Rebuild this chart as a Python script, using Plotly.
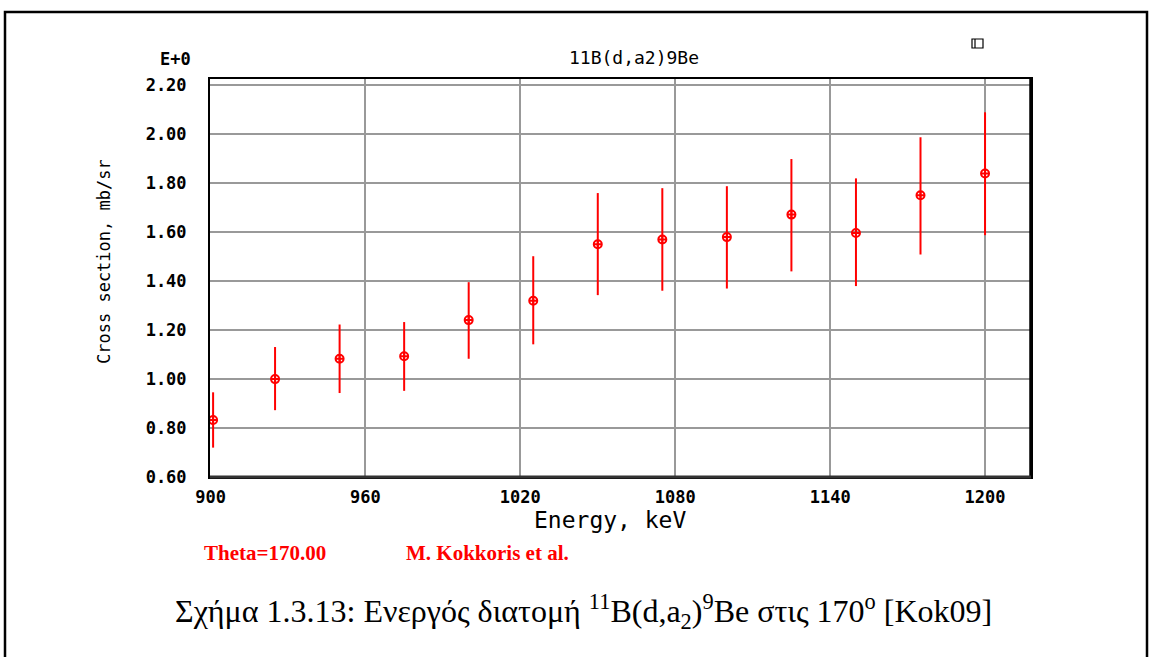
import plotly.graph_objects as go

# ---- data ----
energy = [901, 925, 950, 975, 1000, 1025, 1050, 1075, 1100, 1125, 1150, 1175, 1200]
cross_section = [0.833, 1.000, 1.083, 1.093, 1.241, 1.320, 1.551, 1.570, 1.580, 1.672, 1.597, 1.751, 1.840]
err_plus = [0.113, 0.131, 0.140, 0.140, 0.155, 0.182, 0.209, 0.210, 0.208, 0.227, 0.223, 0.237, 0.250]
err_minus = [0.113, 0.127, 0.140, 0.141, 0.158, 0.178, 0.208, 0.209, 0.210, 0.232, 0.217, 0.242, 0.252]
x_ticks = [900, 960, 1020, 1080, 1140, 1200]
y_ticks = [0.60, 0.80, 1.00, 1.20, 1.40, 1.60, 1.80, 2.00, 2.20]

W, H = 1150, 657
L, R, T, B = 210, 1031, 79, 477


def px(x):
    return (x - L) / (R - L)


def py(y):
    return (B - y) / (B - T)


fig = go.Figure()
fig.add_trace(go.Scatter(
    x=energy, y=cross_section, mode="markers",
    marker=dict(symbol="circle-cross-open", size=8, color="red",
                line=dict(color="red", width=2)),
    error_y=dict(type="data", symmetric=False, array=err_plus, arrayminus=err_minus,
                 color="red", thickness=2, width=0),
    showlegend=False,
))

mono = "DejaVu Sans Mono"
tickf = dict(family=mono, size=17, color="black", weight="bold")
fig.update_layout(
    width=W, height=H,
    margin=dict(l=L, r=W - R, t=T, b=H - B, pad=0),
    paper_bgcolor="white", plot_bgcolor="white",
    xaxis=dict(range=[899.8, 1217.8], tickvals=x_ticks, ticktext=[str(v) for v in x_ticks],
               showgrid=True, gridcolor="#999999", gridwidth=1.5, zeroline=False,
               showline=True, linecolor="black", linewidth=2, mirror=True,
               ticks="", ticklabelstandoff=4, tickfont=tickf),
    yaxis=dict(range=[0.6, 2.226], tickvals=y_ticks, tickformat=".2f",
               showgrid=True, gridcolor="#999999", gridwidth=1.5, zeroline=False,
               showline=True, linecolor="black", linewidth=2, mirror=True,
               ticks="", ticklabelstandoff=18, tickfont=tickf),
)

shapes = [
    # outer frame
    dict(type="rect", xref="paper", yref="paper", x0=px(5), x1=px(1147), y0=py(662), y1=py(12),
         line=dict(color="black", width=2.5), fillcolor="rgba(0,0,0,0)", layer="above"),
    # thicker right / bottom frame edges
    dict(type="line", xref="paper", yref="paper", x0=1, x1=1, y0=0, y1=1,
         line=dict(color="black", width=3.5)),
    dict(type="line", xref="paper", yref="paper", x0=0, x1=1, y0=0, y1=0,
         line=dict(color="#333333", width=3)),
    # small icon
    dict(type="rect", xref="paper", yref="paper", x0=px(972), x1=px(983), y0=py(48), y1=py(39),
         line=dict(color="black", width=1.2), fillcolor="rgba(0,0,0,0)"),
    dict(type="line", xref="paper", yref="paper", x0=px(975), x1=px(975), y0=py(48), y1=py(39),
         line=dict(color="black", width=1.2)),
]
fig.update_layout(shapes=shapes)

ann = [
    dict(text="11B(d,a2)9Be", x=px(634), y=py(57),
         font=dict(family=mono, size=18, color="black")),
    dict(text="E+0", x=px(175), y=py(59),
         font=dict(family=mono, size=17, color="black", weight="bold")),
    dict(text="Cross section, mb/sr", x=px(104), y=py(262), textangle=-90,
         font=dict(family=mono, size=17, color="black")),
    dict(text="Energy, keV", x=px(610), y=py(520),
         font=dict(family=mono, size=23, color="black")),
    dict(text="<b>Theta=170.00</b>", x=px(265), y=py(553),
         font=dict(family="Liberation Serif", size=21, color="red")),
    dict(text="<b>M. Kokkoris et al.</b>", x=px(487), y=py(553),
         font=dict(family="Liberation Serif", size=21, color="red")),
    dict(text="Σχήμα 1.3.13: Ενεργός διατομή <sup>11</sup>B(d,a<sub>2</sub>)<sup>9</sup>Be στις 170<sup>o</sup> [Kok09]",
         x=px(583), y=py(611),
         font=dict(family="Liberation Serif", size=32, color="black")),
]
for a in ann:
    a.update(xref="paper", yref="paper", showarrow=False, xanchor="center", yanchor="middle")
fig.update_layout(annotations=ann)

fig.write_html("out.html", config={"displayModeBar": False},
               post_script="document.body.style.margin='0px';document.body.style.overflow='hidden';")
